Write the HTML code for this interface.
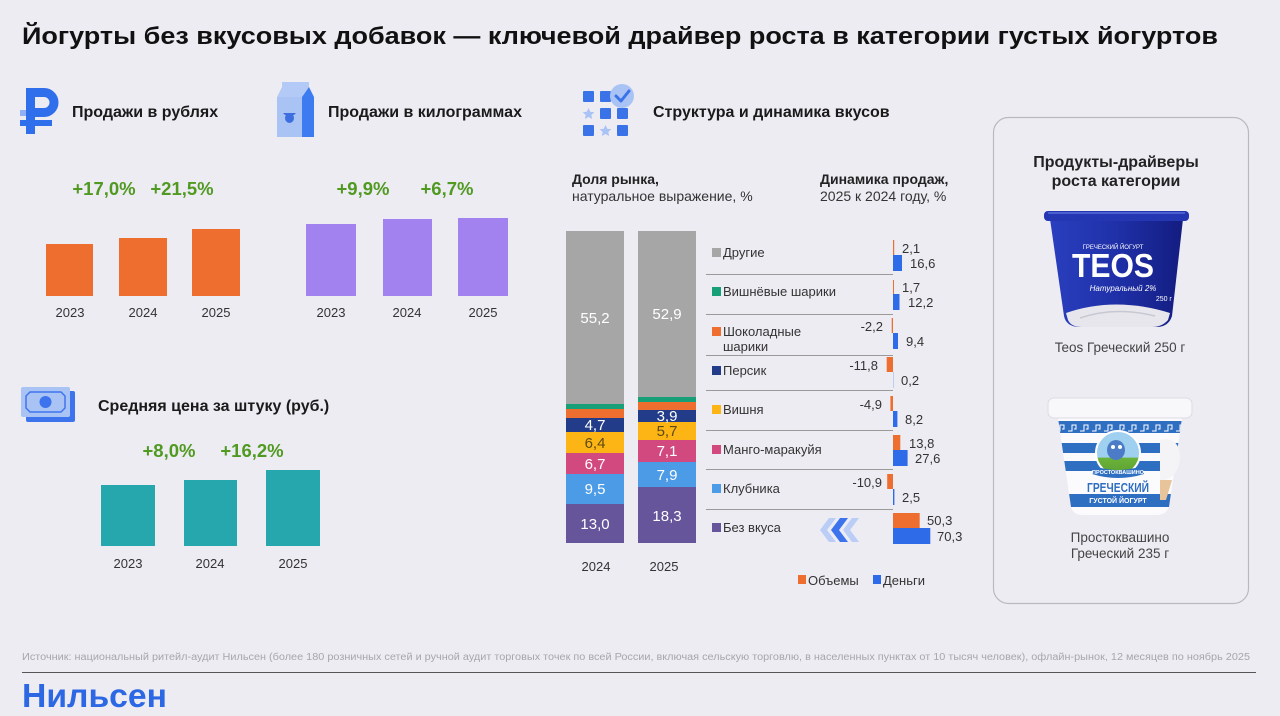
<!DOCTYPE html>
<html><head><meta charset="utf-8"><style>
html,body{margin:0;padding:0;background:#eeecf3;}
svg{display:block;}
text{font-family:"Liberation Sans","Noto Sans CJK SC",sans-serif;}
</style></head><body>
<svg width="1280" height="716" viewBox="0 0 1280 716" xmlns="http://www.w3.org/2000/svg">
<defs>
<linearGradient id="teos" x1="0" x2="1" y1="0" y2="0"><stop offset="0" stop-color="#2a3fbf"/><stop offset="0.5" stop-color="#1f30a8"/><stop offset="1" stop-color="#131c80"/></linearGradient>
<linearGradient id="logo" x1="0" x2="0" y1="0" y2="1"><stop offset="0" stop-color="#9fd0f0"/><stop offset="0.6" stop-color="#9fd0f0"/><stop offset="0.61" stop-color="#6cb33a"/><stop offset="1" stop-color="#5aa030"/></linearGradient>
<clipPath id="pcup"><path d="M1058 418 L1182 418 L1169 507 Q1166 515 1156 515 L1083 515 Q1073 515 1071 507 Z"/></clipPath>
</defs>
<rect width="1280" height="716" fill="#eeecf3"/>

<!-- Title -->
<text x="22" y="44" font-size="24" font-weight="bold" fill="#111" textLength="1196" lengthAdjust="spacingAndGlyphs">Йогурты без вкусовых добавок — ключевой драйвер роста в категории густых йогуртов</text>

<!-- Ruble icon -->
<rect x="20" y="110" width="7" height="6" fill="#8fb0f5"/>
<rect x="26" y="88" width="9" height="46" fill="#2f6fec"/>
<path d="M30.5 92.5 H44 a10 10 0 0 1 0 20 H30.5" stroke="#2f6fec" stroke-width="9" fill="none"/>
<rect x="20" y="120" width="32" height="6" fill="#2f6fec"/>
<text x="72" y="117" font-size="16" font-weight="bold" fill="#1a1a1a">Продажи в рублях</text>

<!-- Milk icon -->
<polygon points="282,82 309,82 309,87 302,97 277,97 282,87" fill="#b3c9f6"/>
<polygon points="309,87 314,97 302,97" fill="#3d7bf0"/>
<rect x="277" y="97" width="25" height="40" fill="#aac3f5"/>
<rect x="302" y="97" width="12" height="40" fill="#3d7bf0"/>
<ellipse cx="289.5" cy="118" rx="4.5" ry="5" fill="#3d6ee0"/>
<path d="M283 113 L296 113 L294 115 L285 115 Z" fill="#3d6ee0"/>
<text x="328" y="117" font-size="16" font-weight="bold" fill="#1a1a1a">Продажи в килограммах</text>

<!-- Rub chart -->
<g font-size="18.5" font-weight="bold" fill="#509a22" text-anchor="middle">
<text x="104" y="195">+17,0%</text><text x="182" y="195">+21,5%</text>
<text x="363" y="195">+9,9%</text><text x="447" y="195">+6,7%</text>
<text x="169" y="457">+8,0%</text><text x="252" y="457">+16,2%</text>
</g>
<g fill="#ee6e2f">
<rect x="46" y="244" width="47" height="52"/>
<rect x="119" y="238" width="48" height="58"/>
<rect x="192" y="229" width="48" height="67"/>
</g>
<g fill="#a182ee">
<rect x="306" y="224" width="50" height="72"/>
<rect x="383" y="219" width="49" height="77"/>
<rect x="458" y="218" width="50" height="78"/>
</g>
<g font-size="13" fill="#333" text-anchor="middle">
<text x="70" y="317">2023</text><text x="143" y="317">2024</text><text x="216" y="317">2025</text>
<text x="331" y="317">2023</text><text x="407" y="317">2024</text><text x="483" y="317">2025</text>
<text x="128" y="568">2023</text><text x="210" y="568">2024</text><text x="293" y="568">2025</text>
</g>

<!-- Money icon -->
<rect x="26" y="391" width="49" height="31" rx="2" fill="#3d74ee"/>
<rect x="21" y="387" width="49" height="30" rx="2" fill="#a9c3f5"/>
<path d="M30 392 H61 L65 396 V408 L61 412 H30 L26 408 V396 Z" fill="none" stroke="#3d74ee" stroke-width="1.5"/>
<circle cx="45.5" cy="402" r="6" fill="#3d74ee"/>
<text x="98" y="411" font-size="16" font-weight="bold" fill="#1a1a1a">Средняя цена за штуку (руб.)</text>
<g fill="#26a7ae">
<rect x="101" y="485" width="54" height="61"/>
<rect x="184" y="480" width="53" height="66"/>
<rect x="266" y="470" width="54" height="76"/>
</g>

<!-- Grid icon -->
<g fill="#3a72e8">
<rect x="583" y="91" width="11" height="11" rx="1"/>
<rect x="600" y="91" width="11" height="11" rx="1"/>
<rect x="600" y="108" width="11" height="11" rx="1"/>
<rect x="617" y="108" width="11" height="11" rx="1"/>
<rect x="583" y="125" width="11" height="11" rx="1"/>
<rect x="617" y="125" width="11" height="11" rx="1"/>
</g>
<g fill="#a9c3f5">
<polygon points="588.5,108 590.3,111.8 594.4,112.2 591.3,115 592.2,119 588.5,117 584.8,119 585.7,115 582.6,112.2 586.7,111.8"/>
<polygon points="605.5,125 607.3,128.8 611.4,129.2 608.3,132 609.2,136 605.5,134 601.8,136 602.7,132 599.6,129.2 603.7,128.8"/>
<circle cx="622" cy="96" r="12"/>
</g>
<path d="M616 96 L621 101 L629 91" stroke="#3a72e8" stroke-width="3" fill="none" stroke-linecap="round" stroke-linejoin="round"/>
<text x="653" y="117" font-size="16" font-weight="bold" fill="#1a1a1a">Структура и динамика вкусов</text>

<!-- Subheadings -->
<text x="572" y="184" font-size="14" font-weight="bold" fill="#222">Доля рынка,</text>
<text x="572" y="201" font-size="14" fill="#333">натуральное выражение, %</text>
<text x="820" y="184" font-size="14" font-weight="bold" fill="#222">Динамика продаж,</text>
<text x="820" y="201" font-size="14" fill="#333">2025 к 2024 году, %</text>

<!-- Stacked 2024 -->
<rect x="566" y="231" width="58" height="173" fill="#a6a6a6"/>
<rect x="566" y="404" width="58" height="5" fill="#17a077"/>
<rect x="566" y="409" width="58" height="9" fill="#ee6e2f"/>
<rect x="566" y="418" width="58" height="14" fill="#223c89"/>
<rect x="566" y="432" width="58" height="21" fill="#fdb515"/>
<rect x="566" y="453" width="58" height="21" fill="#d2497f"/>
<rect x="566" y="474" width="58" height="30" fill="#4b9be6"/>
<rect x="566" y="504" width="58" height="39" fill="#66559b"/>
<!-- Stacked 2025 -->
<rect x="638" y="231" width="58" height="166" fill="#a6a6a6"/>
<rect x="638" y="397" width="58" height="5" fill="#17a077"/>
<rect x="638" y="402" width="58" height="8" fill="#ee6e2f"/>
<rect x="638" y="410" width="58" height="12" fill="#223c89"/>
<rect x="638" y="422" width="58" height="18" fill="#fdb515"/>
<rect x="638" y="440" width="58" height="22" fill="#d2497f"/>
<rect x="638" y="462" width="58" height="25" fill="#4b9be6"/>
<rect x="638" y="487" width="58" height="56" fill="#66559b"/>
<g font-size="15" fill="#fff" text-anchor="middle">
<text x="595" y="323">55,2</text>
<text x="667" y="319">52,9</text>
<text x="595" y="430">4,7</text>
<text x="595" y="448" fill="#5c4a10">6,4</text>
<text x="595" y="469">6,7</text>
<text x="595" y="494">9,5</text>
<text x="595" y="529">13,0</text>
<text x="667" y="421">3,9</text>
<text x="667" y="436" fill="#5c4a10">5,7</text>
<text x="667" y="456">7,1</text>
<text x="667" y="480">7,9</text>
<text x="667" y="521">18,3</text>
</g>
<g font-size="13" fill="#333" text-anchor="middle">
<text x="596" y="571">2024</text><text x="664" y="571">2025</text>
</g>

<!-- Legend rows -->
<g>
<rect x="712" y="248" width="9" height="9" fill="#a6a6a6"/>
<rect x="712" y="287" width="9" height="9" fill="#17a077"/>
<rect x="712" y="327" width="9" height="9" fill="#ee6e2f"/>
<rect x="712" y="366" width="9" height="9" fill="#223c89"/>
<rect x="712" y="405" width="9" height="9" fill="#fdb515"/>
<rect x="712" y="445" width="9" height="9" fill="#d2497f"/>
<rect x="712" y="484" width="9" height="9" fill="#4b9be6"/>
<rect x="712" y="523" width="9" height="9" fill="#66559b"/>
</g>
<g font-size="13" fill="#333">
<text x="723" y="257">Другие</text>
<text x="723" y="296">Вишнёвые шарики</text>
<text x="723" y="336">Шоколадные</text>
<text x="723" y="351">шарики</text>
<text x="723" y="375">Персик</text>
<text x="723" y="414">Вишня</text>
<text x="723" y="454">Манго-маракуйя</text>
<text x="723" y="493">Клубника</text>
<text x="723" y="532">Без вкуса</text>
</g>
<g stroke="#9a9a9a" stroke-width="1">
<line x1="706" y1="274.5" x2="893" y2="274.5"/>
<line x1="706" y1="314.5" x2="893" y2="314.5"/>
<line x1="706" y1="355.5" x2="893" y2="355.5"/>
<line x1="706" y1="390.5" x2="893" y2="390.5"/>
<line x1="706" y1="430.5" x2="893" y2="430.5"/>
<line x1="706" y1="469.5" x2="893" y2="469.5"/>
<line x1="706" y1="509.5" x2="893" y2="509.5"/>
</g>

<!-- Dynamics bars -->
<g fill="#ee6e2f">
<rect x="893" y="240" width="1.2" height="15"/>
<rect x="893" y="280" width="1" height="14"/>
<rect x="891.7" y="318" width="1.3" height="15"/>
<rect x="886.7" y="357" width="6.3" height="15"/>
<rect x="890.4" y="396" width="2.6" height="15"/>
<rect x="893" y="435" width="7.3" height="15"/>
<rect x="887.2" y="474" width="5.8" height="15"/>
<rect x="893" y="513" width="26.7" height="15"/>
</g>
<g fill="#2d6be8">
<rect x="893" y="255" width="9" height="16"/>
<rect x="893" y="294" width="6.5" height="16"/>
<rect x="893" y="333" width="5" height="16"/>
<rect x="893" y="372" width="0.6" height="16" fill="#9db8f0"/>
<rect x="893" y="411" width="4.4" height="16"/>
<rect x="893" y="450" width="14.6" height="16"/>
<rect x="893" y="489" width="1.4" height="16"/>
<rect x="893" y="528" width="37.3" height="16"/>
</g>
<g font-size="13" fill="#333">
<text x="902" y="253">2,1</text><text x="910" y="268">16,6</text>
<text x="902" y="292">1,7</text><text x="908" y="307">12,2</text>
<text x="883" y="331" text-anchor="end">-2,2</text><text x="906" y="346">9,4</text>
<text x="878" y="370" text-anchor="end">-11,8</text><text x="901" y="385">0,2</text>
<text x="882" y="409" text-anchor="end">-4,9</text><text x="905" y="424">8,2</text>
<text x="909" y="448">13,8</text><text x="915" y="463">27,6</text>
<text x="882" y="487" text-anchor="end">-10,9</text><text x="902" y="502">2,5</text>
<text x="927" y="525">50,3</text><text x="937" y="541">70,3</text>
</g>

<!-- Chevrons -->
<polygon points="843,530 852,518 859,518 850,530 859,542 852,542" fill="#b9cdf7"/>
<polygon points="820,530 829,518 836,518 827,530 836,542 829,542" fill="#b9cdf7"/>
<polygon points="831,530 840,518 848,518 839,530 848,542 840,542" fill="#3d74ee"/>

<!-- Bottom legend -->
<rect x="798" y="575" width="8" height="9" fill="#ee6e2f"/>
<text x="808" y="585" font-size="13" fill="#333">Объемы</text>
<rect x="873" y="575" width="8" height="9" fill="#2d6be8"/>
<text x="883" y="585" font-size="13" fill="#333">Деньги</text>

<!-- Right panel -->
<rect x="993.5" y="117.5" width="255" height="486" rx="15" fill="none" stroke="#b9b9c0" stroke-width="1.2"/>
<text x="1116" y="167" font-size="16" font-weight="bold" fill="#222" text-anchor="middle">Продукты-драйверы</text>
<text x="1116" y="186" font-size="16" font-weight="bold" fill="#222" text-anchor="middle">роста категории</text>

<!-- TEOS cup -->
<path d="M1050 219 L1183 219 L1172 316 Q1169 326 1158 327 L1078 327 Q1066 326 1064 316 Z" fill="url(#teos)"/>
<rect x="1044" y="211" width="145" height="10" rx="4" fill="#2436b2"/>
<rect x="1048" y="212" width="137" height="2" fill="#4a5fd0"/>
<path d="M1066 313 Q1115 296 1170 313 L1168 320 Q1162 327 1152 327 L1082 327 Q1071 327 1068 320 Z" fill="#e6e6ec"/>
<path d="M1080 318 Q1115 306 1155 316" stroke="#c8c8d2" stroke-width="1.5" fill="none"/>
<text x="1113" y="249" font-size="6" fill="#fff" text-anchor="middle">ГРЕЧЕСКИЙ ЙОГУРТ</text>
<text x="1113" y="277" font-size="33" font-weight="bold" fill="#fff" text-anchor="middle" textLength="82" lengthAdjust="spacingAndGlyphs">TEOS</text>
<text x="1123" y="291" font-size="8" font-style="italic" fill="#fff" text-anchor="middle">Натуральный 2%</text>
<text x="1172" y="301" font-size="7" fill="#fff" text-anchor="end">250 г</text>
<text x="1120" y="352" font-size="13.5" fill="#444" text-anchor="middle">Teos Греческий 250 г</text>

<!-- Prostokvashino cup -->
<path d="M1058 418 L1182 418 L1169 507 Q1166 515 1156 515 L1083 515 Q1073 515 1071 507 Z" fill="#fbfbfd"/>
<g clip-path="url(#pcup)">
<rect x="1050" y="421" width="140" height="12" fill="#2f6fc2"/>
<path d="M1056 431 h4 v-6 h4 v4 h-2 M1068 431 h4 v-6 h4 v4 h-2 M1080 431 h4 v-6 h4 v4 h-2 M1092 431 h4 v-6 h4 v4 h-2 M1104 431 h4 v-6 h4 v4 h-2 M1116 431 h4 v-6 h4 v4 h-2 M1128 431 h4 v-6 h4 v4 h-2 M1140 431 h4 v-6 h4 v4 h-2 M1152 431 h4 v-6 h4 v4 h-2 M1164 431 h4 v-6 h4 v4 h-2 M1176 431 h4 v-6 h4 v4 h-2" stroke="#fff" stroke-width="1" fill="none"/>
<rect x="1050" y="443" width="140" height="10" fill="#2f6fc2"/>
<rect x="1050" y="461" width="140" height="10" fill="#2f6fc2"/>
<rect x="1050" y="494" width="140" height="13" fill="#2f6fc2"/>
</g>
<rect x="1048" y="398" width="144" height="20" rx="6" fill="#f8f8fa" stroke="#dcdce2" stroke-width="1"/>
<path d="M1160 440 Q1178 436 1180 455 Q1180 475 1165 480 L1160 480 Z" fill="#f4f4f6"/>
<path d="M1160 480 L1172 480 L1166 500 L1160 500 Z" fill="#e8c49a"/>
<circle cx="1118" cy="453" r="22" fill="url(#logo)" stroke="#fff" stroke-width="2"/>
<ellipse cx="1116" cy="450" rx="9" ry="10" fill="#4c7cc8"/>
<circle cx="1113" cy="447" r="2" fill="#fff"/><circle cx="1120" cy="447" r="2" fill="#fff"/>
<path d="M1094 466 Q1118 474 1142 466 L1144 474 Q1118 482 1092 474 Z" fill="#2f6fc2"/>
<text x="1118" y="474" font-size="5.5" font-weight="bold" fill="#fff" text-anchor="middle">ПРОСТОКВАШИНО</text>
<text x="1118" y="492" font-size="13" font-weight="bold" fill="#2f6fc2" text-anchor="middle" textLength="62" lengthAdjust="spacingAndGlyphs">ГРЕЧЕСКИЙ</text>
<text x="1118" y="503" font-size="7" font-weight="bold" fill="#fff" text-anchor="middle">ГУСТОЙ ЙОГУРТ</text>
<text x="1120" y="542" font-size="13.5" fill="#444" text-anchor="middle">Простоквашино</text>
<text x="1120" y="558" font-size="13.5" fill="#444" text-anchor="middle">Греческий 235 г</text>

<!-- Footer -->
<text x="22" y="660" font-size="10" fill="#a6a6ab" textLength="1228" lengthAdjust="spacingAndGlyphs">Источник: национальный ритейл-аудит Нильсен (более 180 розничных сетей и ручной аудит торговых точек по всей России, включая сельскую торговлю, в населенных пунктах от 10 тысяч человек), офлайн-рынок, 12 месяцев по ноябрь 2025</text>
<line x1="22" y1="672.5" x2="1256" y2="672.5" stroke="#555" stroke-width="1"/>
<text x="22" y="707" font-size="33" font-weight="bold" fill="#2d68e4" textLength="145" lengthAdjust="spacingAndGlyphs">Нильсен</text>
</svg>
</body></html>
